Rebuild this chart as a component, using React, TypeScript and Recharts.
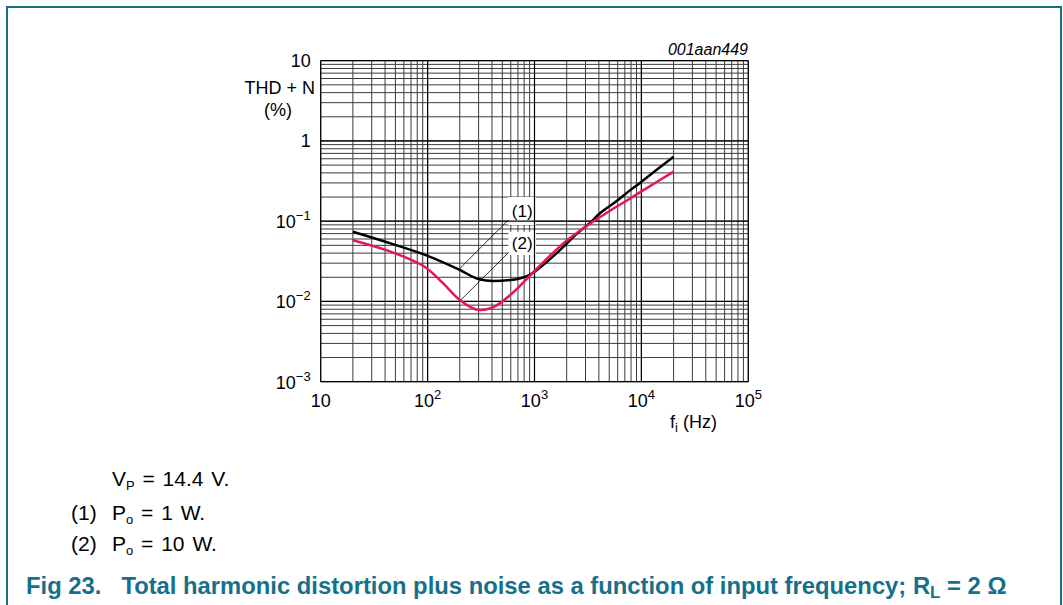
import React from 'react';
import { LineChart, Line, XAxis, YAxis, CartesianGrid, ReferenceLine, ReferenceArea } from 'recharts';

// decades shown on the axes
const X_DECADES = [10, 100, 1000, 10000, 100000];
const Y_DECADES = [0.001, 0.01, 0.1, 1, 10];
const MINOR = [2, 3, 4, 5, 6, 7, 8, 9];

// (1) Po = 1 W
const F_1W = [20, 45, 100, 200, 300, 410, 600, 900, 1300, 1862, 2500, 3300, 4000, 5870, 7500, 9700, 14000, 20000];
const THD_1W = [0.074, 0.053, 0.037, 0.0247, 0.019, 0.018, 0.0185, 0.0214, 0.031, 0.048, 0.07, 0.095, 0.122, 0.178, 0.232, 0.3, 0.44, 0.637];

// (2) Po = 10 W
const F_10W = [20, 44.5, 70, 98, 140, 200, 309, 412, 634, 908, 1300, 1862, 3300, 5000, 7000, 10000, 14000, 20000];
const THD_10W = [0.058, 0.042, 0.033, 0.026, 0.0168, 0.0104, 0.0078, 0.0085, 0.013, 0.021, 0.034, 0.053, 0.093, 0.133, 0.175, 0.235, 0.31, 0.414];

const withMinor = (decades: number[]) => {
  const out: number[] = [];
  decades.forEach((d, i) => {
    out.push(d);
    if (i < decades.length - 1) MINOR.forEach(m => out.push(+(d * m).toPrecision(6)));
  });
  return out;
};

const X_TICKS = withMinor(X_DECADES);
const Y_TICKS = withMinor(Y_DECADES);

const data1 = F_1W.map((f, i) => ({ f, v: THD_1W[i] }));
const data2 = F_10W.map((f, i) => ({ f, v: THD_10W[i] }));

const TEAL = '#17708a';
const FONT = 'Arial, "Liberation Sans", Helvetica, sans-serif';

const isDecade = (v: number) => Math.abs(Math.log10(v) - Math.round(Math.log10(v))) < 1e-6;

const XTick = (props: any) => {
  const { x, y, payload } = props;
  const v = payload.value;
  if (!isDecade(v)) return null;
  const e = Math.round(Math.log10(v));
  return (
    <text x={x} y={y} dy={25} textAnchor="middle" fontSize={18} fill="#000" fontFamily={FONT}>
      <tspan>10</tspan>
      {e !== 1 && <tspan dy={-8} fontSize={13}>{e}</tspan>}
    </text>
  );
};

const YTick = (props: any) => {
  const { x, y, payload } = props;
  const v = payload.value;
  if (!isDecade(v)) return null;
  const e = Math.round(Math.log10(v));
  let body;
  if (e === 1) body = <tspan>10</tspan>;
  else if (e === 0) body = <tspan>1</tspan>;
  else body = (<><tspan>10</tspan><tspan dy={-8} fontSize={13}>{'\u2212' + Math.abs(e)}</tspan></>);
  return (
    <text x={x - 10} y={y} dy={e < 0 ? 7 : 6} textAnchor="end" fontSize={18} fill="#000" fontFamily={FONT}>
      {body}
    </text>
  );
};

const txt = (left: number, top: number, extra: React.CSSProperties = {}) => ({
  position: 'absolute' as const, left, top, fontSize: 18, lineHeight: '20px', whiteSpace: 'nowrap' as const, ...extra,
});

const sub = { fontSize: 13, verticalAlign: -4, lineHeight: 0 };
const note = { fontSize: 21, lineHeight: '22px', wordSpacing: 2 };

export default function App() {
  return (
    <div style={{ position: 'absolute', left: 0, top: 0, width: 1063, height: 605, background: '#fff', overflow: 'hidden', fontFamily: FONT, color: '#000' }}>
      <div style={{ position: 'absolute', left: 6, top: 6, width: 1052, height: 640, border: `2px solid ${TEAL}` }} />

      <LineChart
        width={1063}
        height={605}
        margin={{ top: 60.7, right: 314.7, left: 260.7, bottom: 193.3 }}
        style={{ position: 'absolute', left: 0, top: 0 }}
      >
        <CartesianGrid stroke="#3c3c3c" strokeWidth={1} />
        <XAxis
          dataKey="f"
          type="number"
          scale="log"
          domain={[10, 100000]}
          ticks={X_TICKS}
          interval={0}
          allowDataOverflow
          axisLine={false}
          tickLine={false}
          tickSize={0}
          tickMargin={0}
          height={30}
          tick={<XTick />}
        />
        <YAxis
          dataKey="v"
          type="number"
          scale="log"
          domain={[0.001, 10]}
          ticks={Y_TICKS}
          interval={0}
          allowDataOverflow
          axisLine={false}
          tickLine={false}
          tickSize={0}
          tickMargin={0}
          width={60}
          tick={<YTick />}
        />
        {X_DECADES.map(d => (
          <ReferenceLine key={'x' + d} x={d} stroke="#000" strokeWidth={1.2} />
        ))}
        {Y_DECADES.map(d => (
          <ReferenceLine key={'y' + d} y={d} stroke="#000" strokeWidth={1.2} />
        ))}
        <ReferenceArea x1={569} x2={1033} y1={0.0897} y2={0.2003} fill="#fff" fillOpacity={1} stroke="none"
          label={{ value: '(1)', position: 'center', fontSize: 17, fill: '#000', fontFamily: FONT }} />
        <ReferenceArea x1={569} x2={1033} y1={0.0379} y2={0.0739} fill="#fff" fillOpacity={1} stroke="none"
          label={{ value: '(2)', position: 'center', fontSize: 17, fill: '#000', fontFamily: FONT }} />
        <ReferenceLine segment={[{ x: 569, y: 0.1035 }, { x: 201, y: 0.0259 }]} stroke="#000" strokeWidth={0.8} ifOverflow="visible" />
        <ReferenceLine segment={[{ x: 569, y: 0.0405 }, { x: 204, y: 0.0104 }]} stroke="#000" strokeWidth={0.8} ifOverflow="visible" />
        <Line data={data1} dataKey="v" type="monotone" stroke="#000" strokeWidth={2.5} dot={false} isAnimationActive={false} />
        <Line data={data2} dataKey="v" type="monotone" stroke="#e5175b" strokeWidth={2.5} dot={false} isAnimationActive={false} />
      </LineChart>

      <div style={txt(215, 78, { width: 100, textAlign: 'right' })}>THD + N</div>
      <div style={txt(248, 100, { width: 60, textAlign: 'center' })}>(%)</div>
      <div style={txt(600, 41, { width: 148, textAlign: 'right', fontStyle: 'italic', fontSize: 16, lineHeight: '18px' })}>001aan449</div>
      <div style={txt(670, 412)}>f<sub style={sub}>i</sub> (Hz)</div>

      <div style={txt(112, 468, note)}>V<sub style={sub}>P</sub> = 14.4 V.</div>
      <div style={txt(71, 502, note)}>(1)</div>
      <div style={txt(112, 502, note)}>P<sub style={sub}>o</sub> = 1 W.</div>
      <div style={txt(71, 533, note)}>(2)</div>
      <div style={txt(112, 533, note)}>P<sub style={sub}>o</sub> = 10 W.</div>

      <div style={txt(26, 573, { fontSize: 23.8, lineHeight: '26px', fontWeight: 'bold', color: TEAL })}>
        Fig 23.<span style={{ display: 'inline-block', width: 20 }} />Total harmonic distortion plus noise as a function of input frequency; R<sub style={{ fontSize: 17, verticalAlign: -4, lineHeight: 0 }}>L</sub> = 2 Ω
      </div>
    </div>
  );
}
